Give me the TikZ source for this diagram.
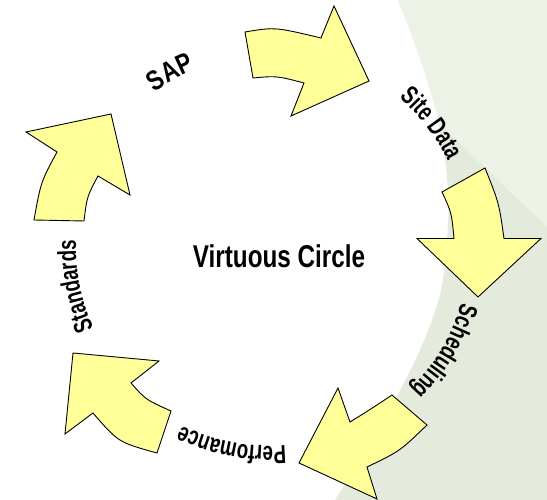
\documentclass[tikz,border=0pt]{standalone}
\usepackage{fontspec}
\usetikzlibrary{decorations.text}
\newfontfamily\narrowbold[FakeStretch=0.72]{Liberation Sans Bold}
\newfontfamily\sapbold[FakeStretch=0.8]{Liberation Sans Bold}
\newfontfamily\titlebold[FakeStretch=0.77]{Liberation Sans Bold}
\newcommand\lblfmt{\narrowbold\fontsize{26}{30}\selectfont}
\newcommand\sapfmt{\sapbold\fontsize{28}{32}\selectfont}
\newcommand\titlefmt{\titlebold\fontsize{31.5}{36}\selectfont}
\definecolor{arrowyellow}{HTML}{FFFF99}
\definecolor{bgdark}{HTML}{E4EBDC}
\definecolor{bglight}{HTML}{EDF2E7}
\begin{document}
\begin{tikzpicture}[x=1pt,y=1pt,
  arrowshape/.style={fill=arrowyellow, draw=black, line width=0.9pt, line join=miter},
  lbl/.style={decoration={text along path, text align=center, text={#1}}, decorate}]
\useasboundingbox (0,0) rectangle (547,500);
\fill[white] (0,0) rectangle (547,500);
% background swoosh
\def\swoosh{plot[smooth, tension=0.7] coordinates {(398,500) (438,380) (447,260) (420,150) (335,0)} -- (547,0) -- (547,500) -- cycle}
\fill[bgdark] \swoosh;
\begin{scope}
  \clip \swoosh;
  \fill[bglight] (547,273) -- (425,390) -- (380,500) -- (547,500) -- cycle;
\end{scope}
% arrows
\path[arrowshape] (245,468) .. controls (275,473) .. (321,462) -- (334,494) -- (369,419) -- (291,384) -- (304,417) .. controls (276.5,424.2) .. (253,422) -- cycle;
\path[arrowshape] (485,332) .. controls (499,297) .. (504,261.5) -- (541,261.5) -- (478,203) -- (417,261.5) -- (454,261.5) .. controls (451.6,287.3) .. (442,308) -- cycle;
\path[arrowshape] (427,75) .. controls (399.7,48.7) .. (367,33) -- (377,1) -- (299,37) -- (338,112) -- (350,78) .. controls (369.7,90.2) .. (392,105) -- cycle;
\path[arrowshape] (157,47) .. controls (118.3,57.7) .. (93,87) -- (65,66) -- (73,147) -- (159,139) -- (131,117) .. controls (145.7,100.3) .. (171,89) -- cycle;
\path[arrowshape] (34,280) -- (84,279) .. controls (87,303.5) .. (98,324) -- (130,305) -- (111,386) -- (26,368) -- (57,348) .. controls (40.8,318) .. (34,280) -- cycle;
% labels along the circle
\path[lbl={|\sapfmt|SAP}] ([shift={(164.4:193)}]269,252) arc[start angle=164.4, end angle=74.4, radius=193];
\path[lbl={|\lblfmt|Site Data}] ([shift={(82.5:199)}]269,252) arc[start angle=82.5, end angle=-7.5, radius=199];
\path[lbl={|\lblfmt|Scheduling}] ([shift={(14.6:200)}]269,252) arc[start angle=14.6, end angle=-75.4, radius=200];
\path[lbl={|\lblfmt|Perfomance}] ([shift={(-55.7:198)}]269,252) arc[start angle=-55.7, end angle=-145.7, radius=198];
\path[lbl={|\lblfmt|Standards}] ([shift={(236.2:193)}]269,252) arc[start angle=236.2, end angle=146.2, radius=193];
% centre title
\node[font=\titlefmt, anchor=base, inner sep=0pt] (title) at (279,232) {Virtuous Circle};
\end{tikzpicture}
\end{document}
